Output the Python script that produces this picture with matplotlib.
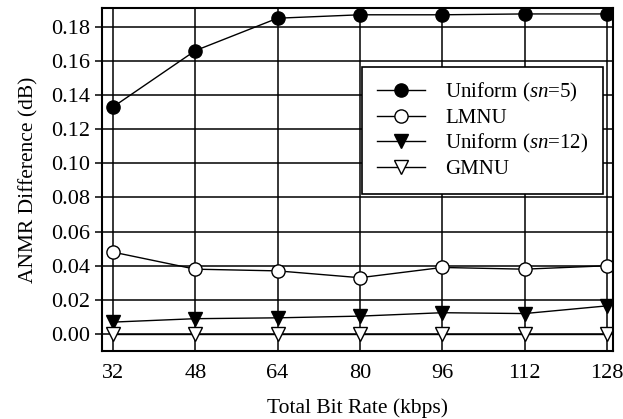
import numpy as np
import matplotlib.pyplot as plt

plt.rcParams['font.family'] = ['Liberation Serif', 'DejaVu Serif']
plt.rcParams['mathtext.fontset'] = 'custom'
plt.rcParams['mathtext.it'] = 'Liberation Serif:italic'
plt.rcParams['mathtext.rm'] = 'Liberation Serif'

# bit rates (kbps)
rates = [32, 48, 64, 80, 96, 112, 128]

uniform5 = [0.133, 0.166, 0.185, 0.187, 0.187, 0.1875, 0.1875]
lmnu = [0.048, 0.038, 0.037, 0.033, 0.039, 0.038, 0.040]
uniform12 = [0.007, 0.009, 0.0095, 0.0105, 0.0125, 0.012, 0.0165]
gmnu = [0.0, 0.0, 0.0, 0.0, 0.0, 0.0, 0.0]

yticks = [0.00, 0.02, 0.04, 0.06, 0.08, 0.10, 0.12, 0.14, 0.16, 0.18]

fig = plt.figure(figsize=(6.23, 4.19), dpi=100)
ax = fig.add_axes([0.164, 0.162, 0.820, 0.819])

ax.plot(rates, uniform5, '-o', color='k', mfc='k', ms=9.5, lw=1, label='Uniform ($sn$=5)')
ax.plot(rates, lmnu, '-o', color='k', mfc='w', ms=9.5, lw=1, label='LMNU')
ax.plot(rates, uniform12, '-v', color='k', mfc='k', ms=9.5, lw=1, label='Uniform ($sn$=12)')
ax.plot(rates, gmnu, '-v', color='k', mfc='w', ms=9.5, lw=1, label='GMNU')

ax.set_xlim(29.9, 129.2)
ax.set_ylim(-0.01, 0.191)
ax.set_xticks(rates)
ax.set_yticks(yticks)
ax.set_yticklabels(['%.2f' % v for v in yticks])
ax.grid(True, color='k', lw=1.1)
ax.set_axisbelow(True)
for s in ax.spines.values():
    s.set_linewidth(1.5)
ax.tick_params(axis='both', labelsize=16, direction='out', width=1.1, length=5)
ax.tick_params(axis='x', length=0, pad=9)

ax.set_xlabel('Total Bit Rate (kbps)', fontsize=15.5, labelpad=11)
ax.set_ylabel('ANMR Difference (dB)', fontsize=15.5, labelpad=9)

leg = ax.legend(loc='upper right', bbox_to_anchor=(0.981, 0.829), fontsize=15,
                frameon=True, fancybox=False, edgecolor='k', framealpha=1,
                handlelength=2.3, borderpad=0.7, labelspacing=0.2, handletextpad=1.0,
                borderaxespad=0)
leg.get_frame().set_linewidth(1.2)

plt.savefig('out.png', dpi=100)
